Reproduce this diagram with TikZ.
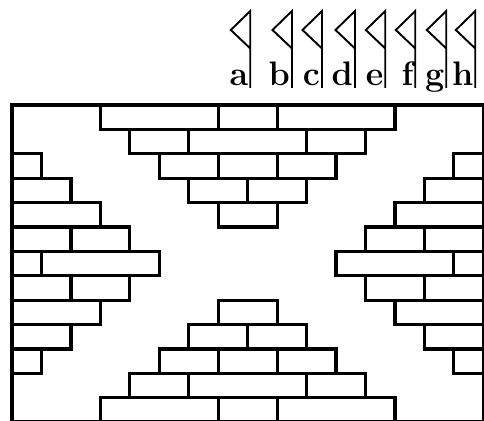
\documentclass[tikz,border=0pt]{standalone}
\usepackage{fontspec}
\begin{document}
\begin{tikzpicture}[x=0.5pt,y=-0.5pt,
  brickline/.style={line width=1.6pt,line join=miter},
  flagline/.style={line width=0.95pt,line join=miter},
  flaglabel/.style={anchor=base east,inner sep=0pt,font=\fontsize{17}{17}\selectfont\bfseries}]
\useasboundingbox (0,0) rectangle (484,421);
\begin{scope}
\clip (0,0) rectangle (484,421);
\pgfmathsetmacro{\U}{29.46}
\pgfmathsetmacro{\H}{24.4}
% frame
\draw[brickline] (12,105) rectangle (483.3,422);
% bricks: row/c1/c2
\foreach \r/\a/\b in {
  0/3/7, 0/7/9, 0/9/13, 1/4/6, 1/6/10, 1/10/12, 2/5/7, 2/7/9, 2/9/11, 3/6/8, 3/8/10, 4/7/9,
  8/7/9, 9/6/8, 9/8/10, 10/5/7, 10/7/9, 10/9/11, 11/4/6, 11/6/10, 11/10/12, 12/3/7, 12/7/9, 12/9/13,
  2/0/1, 3/0/2, 4/0/3, 5/0/2, 5/2/4, 6/0/1, 6/1/5, 7/0/2, 7/2/4, 8/0/3, 9/0/2, 10/0/1,
  2/15/16, 3/14/16, 4/13/16, 5/12/14, 5/14/16, 6/11/15, 6/15/16, 7/12/14, 7/14/16, 8/13/16, 9/14/16, 10/15/16}
{
  \draw[brickline] ({12+\a*\U},{105+\r*\H}) rectangle ({12+\b*\U},{105+(\r+1)*\H});
}
% flags
\foreach \p/\l in {250.3/a, 292/b, 322/c, 355/d, 385.3/e, 415.3/f, 446.3/g, 475.3/h}
{
  \coordinate (top\l) at (\p,11);
  \coordinate (bot\l) at (\p,88);
  \coordinate (tip\l) at ({\p-19.5},30);
  \coordinate (mid\l) at (\p,48.5);
  \draw[flagline] (bot\l) -- (top\l) -- (tip\l) -- (mid\l);
  \node[flaglabel] (lab\l) at ({\p-1.6},86) {\l};
}
\end{scope}
\end{tikzpicture}
\end{document}
